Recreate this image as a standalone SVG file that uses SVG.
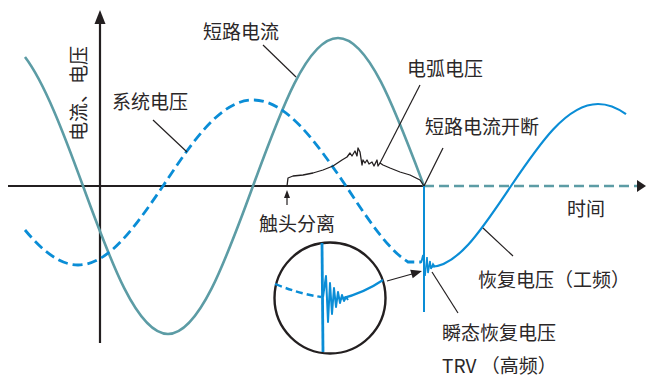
<svg xmlns="http://www.w3.org/2000/svg" width="646" height="378" viewBox="0 0 646 378">
<defs>
<style>
.lbl{font-family:"Noto Sans CJK SC","Noto Sans",sans-serif;font-size:19px;fill:#2b2728}
.ax{stroke:#231f20;stroke-width:2.2;fill:none}
.ld{stroke:#231f20;stroke-width:1.2;fill:none}
.cur{stroke:#5c9ca5;stroke-width:2.6;fill:none}
.vdash{stroke:#0a8dd6;stroke-width:2.8;fill:none;stroke-dasharray:10 5}
.vsol{stroke:#0a8dd6;stroke-width:2.2;fill:none}
.ah{fill:#231f20}
</style>
</defs>
<rect width="646" height="378" fill="#ffffff"/>

<g id="axes">
<line class="ax" x1="8" y1="186" x2="424" y2="186"/>
<line x1="424" y1="186" x2="637" y2="186" stroke="#5c9ca5" stroke-width="2.4" stroke-dasharray="10 5"/>
<polygon class="ah" points="637,180 646,186 637,192"/>
<line class="ax" x1="100" y1="343" x2="100" y2="22"/>
<polygon class="ah" points="94.5,24 100,10 105.5,24"/>
</g>

<g id="short-circuit-current">
<path class="cur" d="M25,57 C44.3,82.3 63.7,133.1 83,186 C110.7,261.8 137.2,334 168,334 C198.8,334 225.3,261.8 253,186 C280.7,110.2 307.2,38 338,38 C368.8,38 395.3,110.2 424,186"/>
</g>

<g id="system-voltage">
<path class="vdash" d="M25,230 C42.7,251.4 60.3,265 78,265 C108.8,265 135.3,226.5 163,186 C192.3,141.9 220.4,100 253,100 C286.7,100 315.7,141.9 346,186 C366.7,217.3 387.3,249 408,262 L421,262"/>
</g>

<g id="arc-voltage">
<path stroke="#231f20" stroke-width="1.3" fill="none" stroke-linejoin="round" d="M287,186 L288,178 L293,176 L303,175 L313,173 L323,170 L333,166 L342,160 L347,157 L350,153 L352,156 L355,151 L357,156 L358,148 L360,152 L362,165 L363,160 L365,163 L367,160 L369,164 L372,162 L374,166 L377,160 L378,166 L380,163 L383,165 L390,168 L400,172 L410,175 L420,180 L424,186"/>
</g>

<g id="trv">
<line x1="424" y1="186" x2="424" y2="312" stroke="#0a8dd6" stroke-width="2"/>
<path stroke="#0a8dd6" stroke-width="1.6" fill="none" d="M421,263 L423,255 L425,276 L427,257 L428,273 L430,261 L431,269 L433,264 L435,267"/>
</g>

<g id="recovery-voltage">
<path class="vsol" d="M430,267 C458,267 482.6,228 511,186 C539.4,144 566.5,104 598,104 C607.3,104 616.7,107.5 626,114.2"/>
</g>

<g id="inset">
<circle cx="330" cy="298" r="55.5" fill="none" stroke="#231f20" stroke-width="2.4"/>
<path stroke="#0a8dd6" stroke-width="2.4" fill="none" stroke-dasharray="7 4" d="M275,284 Q300,294 321,297"/>
<path stroke="#0a8dd6" stroke-width="2.8" fill="none" d="M322,243 L323,352"/>
<path stroke="#0a8dd6" stroke-width="2" fill="none" stroke-linejoin="round" d="M323,297 L326,276 L328,322 L330,283 L332,314 L334,288 L336,307 L338,292 L340,303 L342,295 L344,301 L346,297 L348,300"/>
<path class="vsol" d="M340,299 Q364,293 383,280"/>
</g>

<g id="connectors">
<line class="ld" x1="263" y1="45" x2="296" y2="77"/>
<line class="ld" x1="153" y1="120" x2="187" y2="152"/>
<line class="ld" x1="420" y1="85" x2="380" y2="163"/>
<line class="ld" x1="443" y1="148" x2="424" y2="186"/>
<line class="ld" x1="483" y1="228" x2="513" y2="256"/>
<line class="ld" x1="432" y1="272" x2="458" y2="313"/>
<line class="ld" x1="287" y1="205" x2="287" y2="196"/>
<polygon class="ah" points="284,198 287,190 290,198"/>
<line class="ld" x1="387" y1="281" x2="412" y2="274"/>
<polygon class="ah" points="422,271 412.7,278.3 410.2,269.7"/>
</g>

<g id="labels">
<text class="lbl" transform="translate(86,141) rotate(-90)">电流、电压</text>
<text class="lbl" x="203" y="39">短路电流</text>
<text class="lbl" x="112" y="109">系统电压</text>
<text class="lbl" x="407" y="76">电弧电压</text>
<text class="lbl" x="425" y="134">短路电流开断</text>
<text class="lbl" x="567" y="216">时间</text>
<text class="lbl" x="259" y="231">触头分离</text>
<text class="lbl" x="478" y="287">恢复电压（工频）</text>
<text class="lbl" x="442" y="340">瞬态恢复电压</text>
<text class="lbl" x="442" y="373">TRV （高频）</text>
</g>
</svg>
